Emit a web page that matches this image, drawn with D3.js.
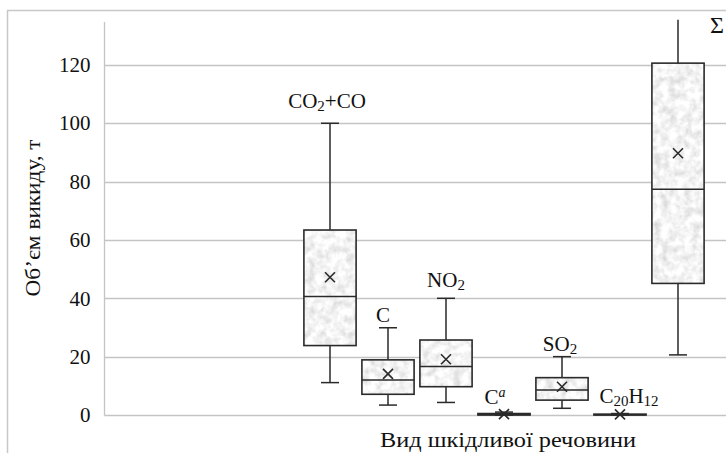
<!DOCTYPE html>
<html><head><meta charset="utf-8">
<script src="https://cdn.jsdelivr.net/npm/d3@7"></script>
<style>body{margin:0;background:#fff}svg{display:block}text{font-family:"Liberation Serif","Times New Roman",serif;fill:#111}</style>
</head><body><svg id="c" width="726" height="453"></svg>
<script>
const categories = ["CO2+CO","C","NO2","Ca","SO2","C20H12","Σ"];
const minV    = [11.1, 3.4, 4.3, 0,   2.3, 0,   20.6];
const q1V     = [23.8, 7.1, 9.7, 0,   5.1, 0,   45.1];
const medianV = [40.6, 12.0,16.6,0.2, 8.6, 0.1, 77.4];
const q3V     = [63.4, 18.9,25.7,0.5, 12.8,0.3, 120.6];
const maxV    = [100, 29.9, 40,  1,   20,  0.5, 135.5];
const meanV   = [47.2, 14.1,19.1,0.3, 9.7, 0.2, 89.7];
const yTicks  = [0,20,40,60,80,100,120];

const svg = d3.select("#c");
const y = d3.scaleLinear().domain([0,134.7]).range([415,22]);
const x = d3.scaleBand().domain(categories).range([301,707]).paddingInner(0.1).paddingOuter(0.05);
const plotL = 104.5, plotR = 760;

// texture filter
const defs = svg.append("defs");
const f = defs.append("filter").attr("id","tex").attr("x",0).attr("y",0).attr("width",1).attr("height",1);
f.append("feTurbulence").attr("type","fractalNoise").attr("baseFrequency","0.13").attr("numOctaves",3).attr("seed",4).attr("result","n");
f.append("feColorMatrix").attr("in","n").attr("type","matrix")
 .attr("values","0.6 0 0 0 0.6  0.6 0 0 0 0.6  0.6 0 0 0 0.6  0 0 0 0 1").attr("result","g");
f.append("feComposite").attr("in","g").attr("in2","SourceGraphic").attr("operator","in");

// chart border
svg.append("rect").attr("x",7.5).attr("y",10.5).attr("width",760).attr("height",500).attr("fill","none").attr("stroke","#c8c8c8").attr("stroke-width",1.5);

// gridlines
svg.append("g").selectAll("line").data(yTicks).join("line")
 .attr("x1",plotL).attr("x2",plotR).attr("y1",d=>Math.round(y(d))+0.5).attr("y2",d=>Math.round(y(d))+0.5)
 .attr("stroke","#c4c4c4").attr("stroke-width",1.3);
svg.append("line").attr("x1",plotL).attr("x2",plotL).attr("y1",22).attr("y2",415.5).attr("stroke","#c4c4c4").attr("stroke-width",1.3);

// tick labels
const yAxis = d3.axisLeft(y).tickValues(yTicks).tickSize(0).tickPadding(14).tickFormat(d3.format("d"));
const ga = svg.append("g").attr("transform",`translate(${plotL},0)`).call(yAxis);
ga.select(".domain").remove();
ga.selectAll("text").attr("font-size",21).attr("fill","#111").style("font-family","Liberation Serif");

// axis titles
svg.append("text").attr("x",508).attr("y",447).attr("text-anchor","middle").attr("font-size",22)
  .attr("textLength",256).attr("lengthAdjust","spacingAndGlyphs").text("Вид шкідливої речовини");
svg.append("text").attr("transform","translate(40,218) rotate(-90)").attr("text-anchor","middle").attr("font-size",21)
  .attr("textLength",157).attr("lengthAdjust","spacingAndGlyphs").text("Об’єм викиду, т");

// boxes
const data = categories.map((c,i)=>({c,min:minV[i],q1:q1V[i],med:medianV[i],q3:q3V[i],max:maxV[i],mean:meanV[i]}));
const stroke = "#2a2a2a";
const g = svg.append("g");
data.forEach(d=>{
  const cx = x(d.c) + x.bandwidth()/2;
  const bw = x.bandwidth();
  const gg = g.append("g");
  gg.append("line").attr("x1",cx).attr("x2",cx).attr("y1",y(d.max)).attr("y2",y(d.q3)).attr("stroke",stroke).attr("stroke-width",1.5);
  gg.append("line").attr("x1",cx).attr("x2",cx).attr("y1",y(d.q1)).attr("y2",y(d.min)).attr("stroke",stroke).attr("stroke-width",1.5);
  gg.append("line").attr("x1",cx-9).attr("x2",cx+9).attr("y1",y(d.min)).attr("y2",y(d.min)).attr("stroke",stroke).attr("stroke-width",1.5);
  if (d.max < 130) gg.append("line").attr("x1",cx-9).attr("x2",cx+9).attr("y1",y(d.max)).attr("y2",y(d.max)).attr("stroke",stroke).attr("stroke-width",1.5);
  gg.append("rect").attr("x",x(d.c)).attr("y",y(d.q3)).attr("width",bw).attr("height",Math.max(0.1,y(d.q1)-y(d.q3)))
    .attr("fill","#ddd").attr("filter","url(#tex)");
  gg.append("rect").attr("x",x(d.c)).attr("y",y(d.q3)).attr("width",bw).attr("height",Math.max(0.1,y(d.q1)-y(d.q3)))
    .attr("fill","none").attr("stroke",stroke).attr("stroke-width",1.6);
  gg.append("line").attr("x1",x(d.c)).attr("x2",x(d.c)+bw).attr("y1",y(d.med)).attr("y2",y(d.med)).attr("stroke",stroke).attr("stroke-width",1.5);
  const my = y(d.mean), s = 5;
  gg.append("path").attr("d",`M${cx-s},${my-s}L${cx+s},${my+s}M${cx-s},${my+s}L${cx+s},${my-s}`).attr("stroke",stroke).attr("stroke-width",1.6).attr("fill","none");
});

// labels
function lab(cat, by, dx, parts){
  const cx = x(cat) + x.bandwidth()/2 + dx;
  const t = svg.append("text").attr("x",cx).attr("y",by).attr("text-anchor","middle").attr("font-size",21);
  parts.forEach(p=>{
    const ts = t.append("tspan").text(p[0]);
    if (p[1]==="sub") ts.attr("font-size",15).attr("dy",3);
    if (p[1]==="back") ts.attr("dy",-3);
    if (p[1]==="sup") ts.attr("font-size",14).attr("dy",-7).attr("font-style","italic");
  });
}
lab("CO2+CO",108,-3,[["CO"],["2","sub"],["+CO","back"]]);
lab("C",322,-5,[["C"]]);
lab("NO2",287,0,[["NO"],["2","sub"]]);
lab("SO2",351,-2,[["SO"],["2","sub"]]);
lab("Ca",404,-9,[["C"],["a","sup"]]);
lab("C20H12",403,9,[["C"],["20","sub"],["H","back"],["12","sub"]]);
svg.append("text").attr("x",710).attr("y",33).attr("font-size",24).text("Σ");
</script></body></html>
